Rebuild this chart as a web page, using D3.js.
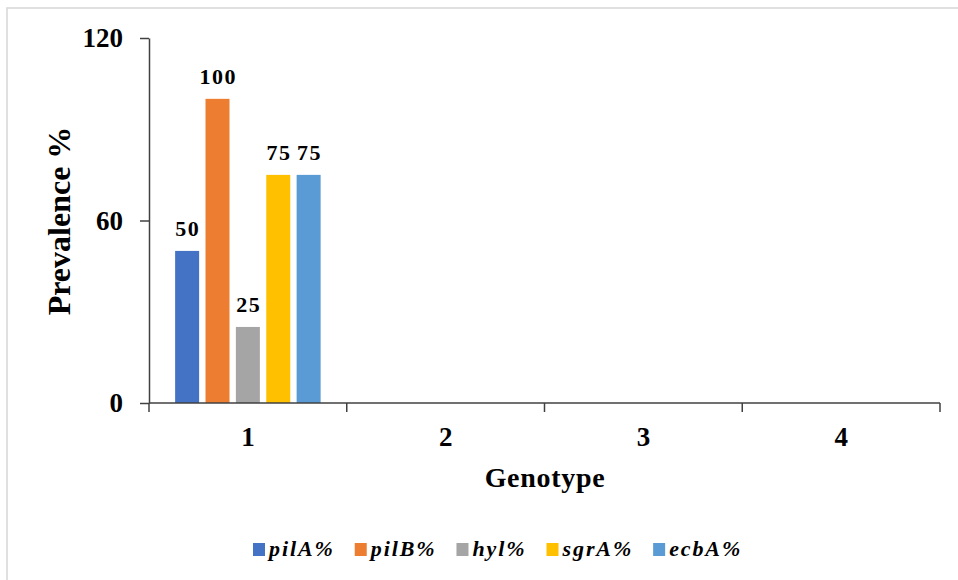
<!DOCTYPE html>
<html>
<head>
<meta charset="utf-8">
<script src="https://cdn.jsdelivr.net/npm/d3@7"></script>
<style>
  html, body { margin: 0; padding: 0; background: #ffffff; }
  svg { display: block; }
  text { font-family: "Liberation Serif", "Times New Roman", serif; font-weight: bold; fill: #000; }
</style>
</head>
<body>
<svg id="chart" width="958" height="580"></svg>
<script>
const categories = ["1", "2", "3", "4"];
const seriesNames = ["pilA%", "pilB%", "hyl%", "sgrA%", "ecbA%"];
const seriesColors = ["#4472C4", "#ED7D31", "#A5A5A5", "#FFC000", "#5B9BD5"];
// values per series for genotype 1..4 (null = no bar)
const pilA = [50, null, null, null];
const pilB = [100, null, null, null];
const hyl = [25, null, null, null];
const sgrA = [75, null, null, null];
const ecbA = [75, null, null, null];
const seriesValues = [pilA, pilB, hyl, sgrA, ecbA];
const yTicks = [0, 60, 120];
const xTitle = "Genotype";
const yTitle = "Prevalence %";

const svg = d3.select("#chart");

// outer frame
svg.append("rect")
  .attr("x", 7).attr("y", 8).attr("width", 970).attr("height", 600)
  .attr("fill", "#ffffff").attr("stroke", "#d9d9d9").attr("stroke-width", 1.6);

const plot = { left: 149, right: 940, top: 38, bottom: 403 };

const x0 = d3.scaleBand().domain(categories).range([plot.left, plot.right]).padding(0);
const x1 = d3.scaleBand().domain(seriesNames).range([0, x0.bandwidth()])
  .paddingInner(0.21).paddingOuter(0.86);
const y = d3.scaleLinear().domain([0, 120]).range([plot.bottom, plot.top]);

// bars
const data = [];
categories.forEach((c, ci) => {
  seriesNames.forEach((s, si) => {
    const v = seriesValues[si][ci];
    if (v !== null && v !== undefined) data.push({ cat: c, series: s, color: seriesColors[si], value: v });
  });
});

svg.append("g").selectAll("rect").data(data).join("rect")
  .attr("x", d => x0(d.cat) + x1(d.series))
  .attr("y", d => y(d.value))
  .attr("width", x1.bandwidth())
  .attr("height", d => y(0) - y(d.value))
  .attr("fill", d => d.color);

// data labels
svg.append("g").selectAll("text").data(data).join("text")
  .attr("x", d => x0(d.cat) + x1(d.series) + x1.bandwidth() / 2 + 0.75)
  .attr("y", d => y(d.value) - 15)
  .attr("text-anchor", "middle")
  .style("font-size", "22px")
  .style("letter-spacing", "1.5px")
  .text(d => d.value);

const axisColor = "#404040";

// y axis
const yAxis = svg.append("g")
  .attr("transform", `translate(${plot.left},0)`)
  .call(d3.axisLeft(y).tickValues(yTicks).tickSize(9).tickSizeOuter(0).tickPadding(17));
yAxis.select(".domain").attr("stroke", axisColor).attr("stroke-width", 1.5);
yAxis.selectAll(".tick line").attr("stroke", axisColor).attr("stroke-width", 1.5);
yAxis.selectAll(".tick text")
  .style("font-family", '"Liberation Serif", "Times New Roman", serif')
  .style("font-weight", "bold")
  .style("font-size", "27px")
  .attr("fill", "#000");

// x axis (ticks between categories, Excel style)
const xAxisG = svg.append("g");
xAxisG.append("line")
  .attr("x1", plot.left).attr("x2", plot.right)
  .attr("y1", plot.bottom).attr("y2", plot.bottom)
  .attr("stroke", axisColor).attr("stroke-width", 1.5);
const boundaries = categories.map(c => x0(c)).concat([x0.range()[1]]);
xAxisG.selectAll("line.tick").data(boundaries).join("line")
  .attr("class", "tick")
  .attr("x1", d => d).attr("x2", d => d)
  .attr("y1", plot.bottom).attr("y2", plot.bottom + 9)
  .attr("stroke", axisColor).attr("stroke-width", 1.5);
xAxisG.selectAll("text").data(categories).join("text")
  .attr("x", d => x0(d) + x0.bandwidth() / 2)
  .attr("y", 446)
  .attr("text-anchor", "middle")
  .style("font-size", "27px")
  .text(d => d);

// axis titles
svg.append("text")
  .attr("x", 545).attr("y", 487)
  .attr("text-anchor", "middle")
  .style("font-size", "28px")
  .style("letter-spacing", "0.7px")
  .text(xTitle);

svg.append("text")
  .attr("transform", "translate(70,221) rotate(-90)")
  .attr("text-anchor", "middle")
  .style("font-size", "32px")
  .text(yTitle);

// legend
const legend = svg.append("g");
const items = legend.selectAll("g").data(seriesNames).join("g");
items.append("rect")
  .attr("width", 12).attr("height", 13)
  .attr("y", -13)
  .attr("fill", (d, i) => seriesColors[i]);
items.append("text")
  .attr("x", 16).attr("y", 0)
  .style("font-size", "22px")
  .style("font-style", "italic")
  .style("letter-spacing", "1.9px")
  .text(d => d);
let cx = 0;
const offsets = [];
items.each(function () {
  offsets.push(cx);
  const w = d3.select(this).select("text").node().getComputedTextLength();
  cx += 16 + w + 20;
});
const startX = 253;
items.attr("transform", (d, i) => `translate(${startX + offsets[i]},556)`);
</script>
</body>
</html>
